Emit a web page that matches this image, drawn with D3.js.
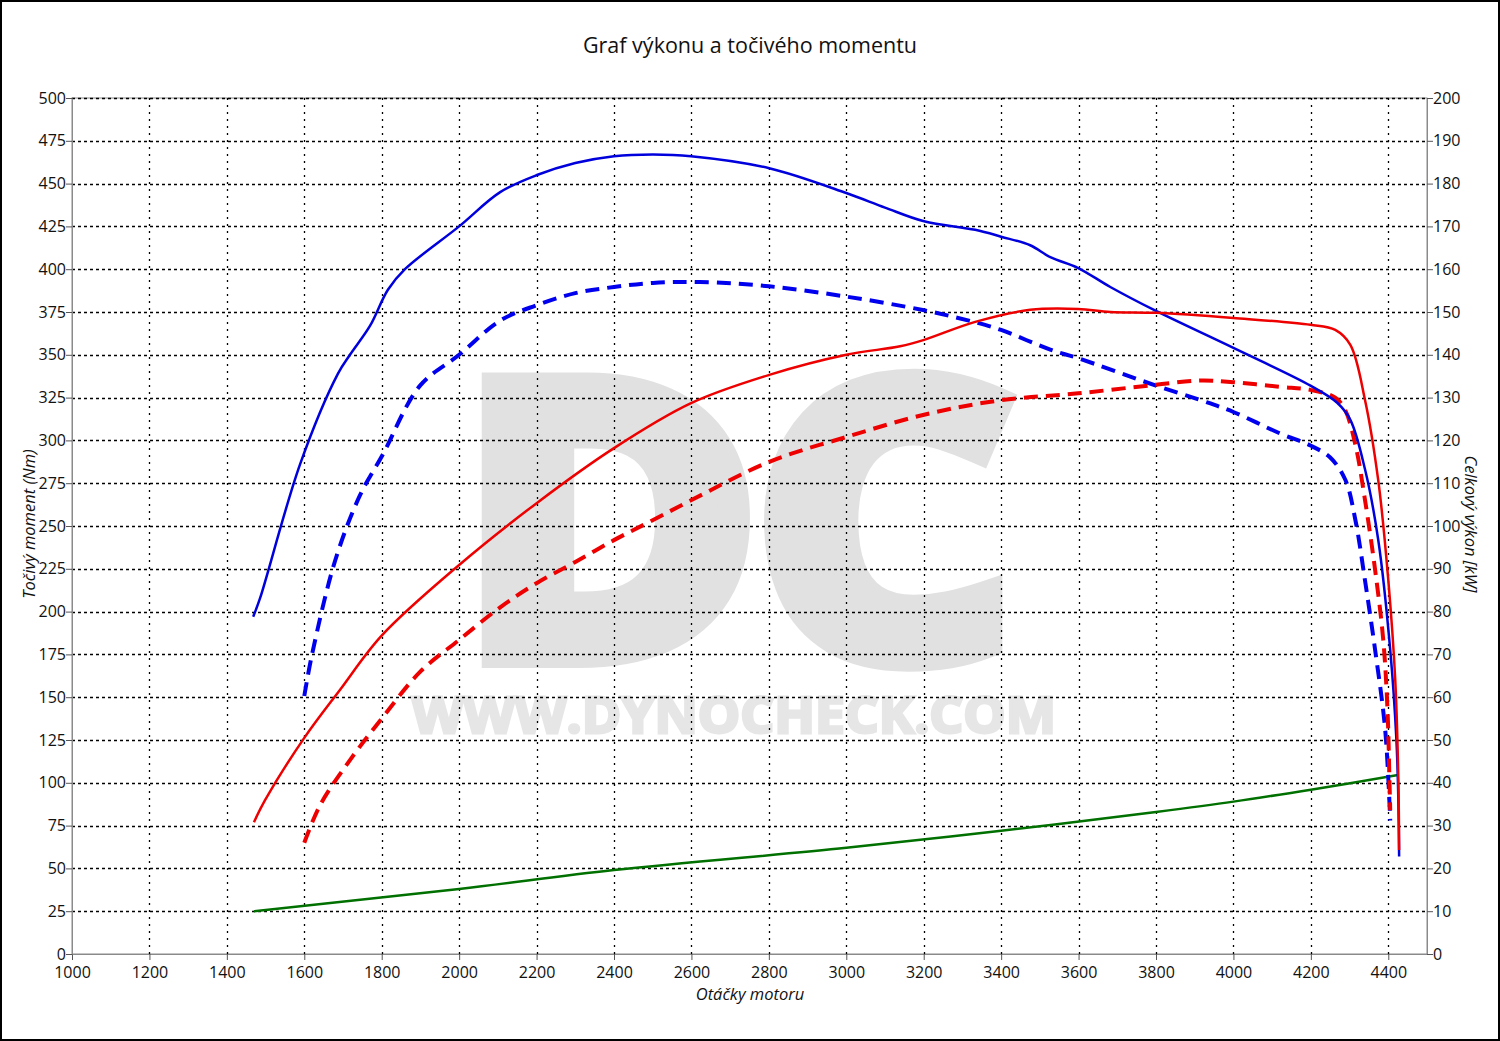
<!DOCTYPE html>
<html><head><meta charset="utf-8">
<script src="https://cdn.jsdelivr.net/npm/d3@7"></script>
<style>
html,body{margin:0;padding:0;background:#fff;}
svg{display:block;}
text{font-family:"Open Sans","Noto Sans",sans-serif;}
</style></head>
<body>
<script>
// ---- data ----
const title = "Graf výkonu a točivého momentu";
const xLabel = "Otáčky motoru";
const yLeftLabel = "Točivý moment (Nm)";
const yRightLabel = "Celkový výkon [kW]";
const xTicks = [1000,1200,1400,1600,1800,2000,2200,2400,2600,2800,3000,3200,3400,3600,3800,4000,4200,4400];
const yLeftTicks = [0,25,50,75,100,125,150,175,200,225,250,275,300,325,350,375,400,425,450,475,500];
const yRightTicks = [0,10,20,30,40,50,60,70,80,90,100,110,120,130,140,150,160,170,180,190,200];

// tuned torque (Nm) - blue solid
const torqueTunedRpm = [1468,1486,1589,1687,1718,1770,1816,1860,2000,2106,2201,2300,2400,2501,2599,2801,3000,3100,3201,3333,3400,3475,3527,3599,3682,3800,4000,4199,4268,4302,4340,4374,4405,4421,4426,4428];
const torqueTunedNm  = [197,208,286,339,350,367,388,400,425,445,455,462,466,467,466,459,444.5,436,428,423,419,414,407,400.7,389.6,375.6,354,332,322,312,283,242,177.6,125,90,57];
// stock torque (Nm) - blue dashed
const torqueStockRpm = [1600,1620,1680,1744,1801,1899,2000,2106,2201,2300,2400,2501,2622,2801,3000,3201,3333,3400,3527,3599,3800,3914,4000,4121,4199,4250,4289,4315,4340,4366,4392,4405];
const torqueStockNm  = [150.7,175,230,268,291,332,350,370,379,386,389.6,392,392.5,390,384,376,369,364.5,353,348,332,323.6,316.6,304,297,290,277,253.5,218,177.6,131,78];
// tuned power (kW) - red solid
const powerTunedRpm = [1470,1499,1600,1692,1801,2000,2201,2400,2599,2801,3000,3139,3201,3333,3475,3599,3682,3800,4000,4199,4263,4302,4340,4374,4400,4418,4426,4428];
const powerTunedKw  = [30.8,36,50.5,61.7,74.5,90.9,105.4,118.2,128.7,135.3,140,142,143.5,147.7,150.5,150.7,150,149.8,148.6,147,145.8,142.3,129.4,110.7,87.4,64,40.7,24.3];
// stock power (kW) - red dashed
const powerStockRpm = [1600,1641,1718,1801,1899,2000,2106,2201,2300,2400,2501,2599,2801,3000,3201,3400,3599,3800,3914,4000,4121,4199,4263,4289,4315,4340,4366,4387,4398,4403,4405];
const powerStockKw  = [26,34.8,45.3,55.1,65.9,73.4,81,86.7,91.6,96.7,101.4,106,115,120.8,126,129.4,131,133,134,133.6,132.5,131.8,130,127,119,106,89.7,73.4,57,40.7,33.6];
// losses (Nm scale) - green
const lossRpm = [1470,2000,2400,3000,3400,3800,4000,4200,4425];
const lossNm  = [25,38,49,62,72,83,89,96,104.5];

// ---- layout ----
const W = 1500, H = 1041;
const m = {l:72, r:1427, t:98, b:954};

const svg = d3.select("body").append("svg").attr("width",W).attr("height",H);
svg.append("rect").attr("x",1).attr("y",1).attr("width",W-2).attr("height",H-2)
  .attr("fill","#fff").attr("stroke","#000").attr("stroke-width",2);

const x = d3.scaleLinear().domain([1000,4500]).range([m.l,m.r]);
const yL = d3.scaleLinear().domain([0,500]).range([m.b,m.t]);
const yR = d3.scaleLinear().domain([0,200]).range([m.b,m.t]);

// watermark
svg.append("text").attr("x",462).attr("y",653).attr("textLength",549).attr("lengthAdjust","spacingAndGlyphs")
  .attr("font-family","DejaVu Sans").attr("font-weight","bold").attr("font-size",372)
  .attr("fill","#e1e1e1").attr("stroke","#e1e1e1").attr("stroke-width",30).attr("stroke-linejoin","miter")
  .text("DC");
svg.append("text").attr("x",412).attr("y",733).attr("textLength",644).attr("lengthAdjust","spacingAndGlyphs")
  .attr("font-family","DejaVu Sans").attr("font-weight","bold").attr("font-size",50)
  .attr("fill","#e6e6e6").attr("stroke","#e6e6e6").attr("stroke-width",3).text("WWW.DYNOCHECK.COM");

// plot frame
svg.append("rect").attr("x",m.l).attr("y",m.t).attr("width",m.r-m.l).attr("height",m.b-m.t)
  .attr("fill","none").attr("stroke","#8a8a8a").attr("stroke-width",1);

// grid
const grid = svg.append("g");
grid.selectAll("line.h").data(yLeftTicks.filter(d=>d>0)).join("line")
  .attr("x1",m.l).attr("x2",m.r).attr("y1",d=>Math.round(yL(d))+0.5).attr("y2",d=>Math.round(yL(d))+0.5)
  .attr("stroke","#000").attr("stroke-width",1.3).attr("stroke-dasharray","3,3");
grid.selectAll("line.v").data(xTicks.filter(d=>d>1000)).join("line")
  .attr("y1",m.t).attr("y2",m.b).attr("x1",d=>Math.round(x(d))+0.5).attr("x2",d=>Math.round(x(d))+0.5)
  .attr("stroke","#000").attr("stroke-width",1.3).attr("stroke-dasharray","2,5");

// axes
const fs = "16px";
const ax = svg.append("g").attr("transform",`translate(0,${m.b})`)
  .call(d3.axisBottom(x).tickValues(xTicks).tickFormat(d3.format("d")).tickSize(6).tickSizeOuter(0));
const al = svg.append("g").attr("transform",`translate(${m.l},0)`)
  .call(d3.axisLeft(yL).tickValues(yLeftTicks).tickFormat(d3.format("d")).tickSize(6).tickSizeOuter(0));
const ar = svg.append("g").attr("transform",`translate(${m.r},0)`)
  .call(d3.axisRight(yR).tickValues(yRightTicks).tickFormat(d3.format("d")).tickSize(6).tickSizeOuter(0));
[ax,al,ar].forEach(g=>{
  g.select(".domain").attr("stroke","#8a8a8a");
  g.selectAll(".tick line").attr("stroke","#555");
  g.selectAll(".tick text").attr("font-size",fs).attr("fill","#111")
    .attr("font-family","'Open Sans','Noto Sans',sans-serif");
});
ax.selectAll(".tick text").attr("y",9).attr("dy","0.95em");
al.selectAll(".tick text").attr("x",-6);
ar.selectAll(".tick text").attr("x",6);

// titles
svg.append("text").attr("x",750).attr("y",53).attr("text-anchor","middle")
  .attr("font-size","21.5px").attr("fill","#111").text(title);
svg.append("text").attr("x",750).attr("y",1000).attr("text-anchor","middle")
  .attr("font-size","16.5px").attr("font-style","italic").attr("fill","#111").text(xLabel);
svg.append("text").attr("transform","translate(35,524) rotate(-90)").attr("text-anchor","middle")
  .attr("font-size","16.5px").attr("font-style","italic").attr("fill","#111").text(yLeftLabel);
svg.append("text").attr("transform","translate(1465,524) rotate(90)").attr("text-anchor","middle")
  .attr("font-size","16.5px").attr("font-style","italic").attr("fill","#111").text(yRightLabel);

// curves
const curve = d3.curveCatmullRom.alpha(0.5);
function drawLine(rpms, vals, yScale, color, width, dash){
  const data = rpms.map((r,i)=>[r,vals[i]]);
  svg.append("path").datum(data)
    .attr("d", d3.line().x(d=>x(d[0])).y(d=>yScale(d[1])).curve(curve))
    .attr("fill","none").attr("stroke",color).attr("stroke-width",width)
    .attr("stroke-dasharray",dash||null).attr("stroke-linejoin","round");
}
drawLine(lossRpm, lossNm, yL, "#007000", 2.5);
drawLine(torqueStockRpm, torqueStockNm, yL, "#0000ee", 4, "14,8");
drawLine(powerStockRpm, powerStockKw, yR, "#ee0000", 4, "14,8");
drawLine(torqueTunedRpm, torqueTunedNm, yL, "#0000dd", 2.5);
drawLine(powerTunedRpm, powerTunedKw, yR, "#ee0000", 2.5);
</script>
</body></html>
